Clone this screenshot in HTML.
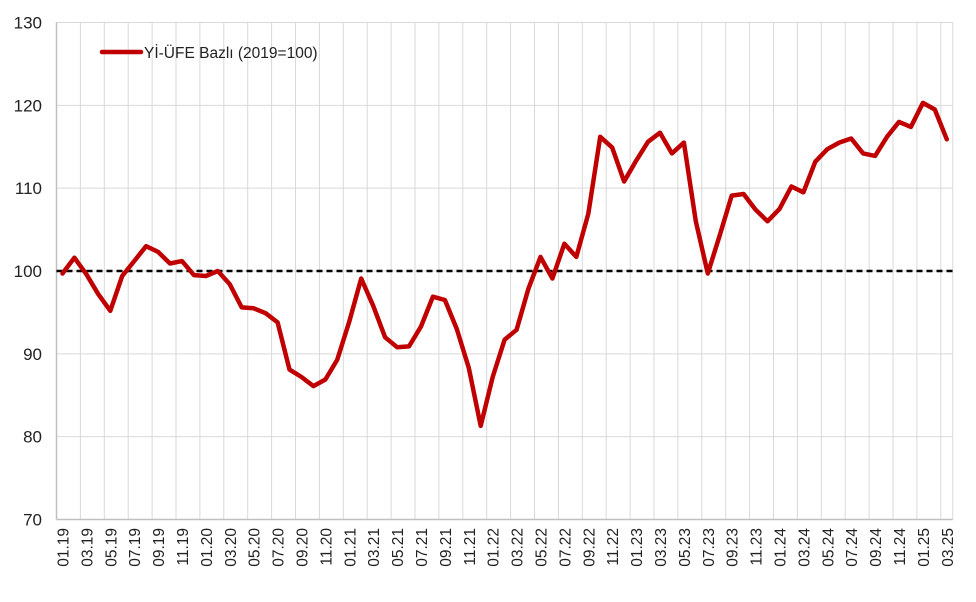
<!DOCTYPE html>
<html><head><meta charset="utf-8"><style>
html,body{margin:0;padding:0;background:#fff;}
svg{display:block;font-family:"Liberation Sans",sans-serif;}
</style></head><body>
<svg id="s" width="976" height="602" xmlns="http://www.w3.org/2000/svg"></svg>
<script>
const s=document.getElementById('s');
const L=56.5,T=22.5,B=519.5,W=896.25,n=75,dx=W/n;
const yv=v=>271-(v-100)*8.283;
let h='';
// horizontal grid
for(let v=70;v<=130;v+=10){const y=yv(v);h+=`<line x1="${L}" x2="${L+W}" y1="${y}" y2="${y}" stroke="#d9d9d9" stroke-width="1"/>`;
h+=`<text x="42" y="${y+6}" text-anchor="end" font-size="17" fill="#222">${v}</text>`;}
// vertical grid
for(let k=0;k<=n;k+=2){const x=L+k*dx;h+=`<line x1="${x}" x2="${x}" y1="${T}" y2="${B}" stroke="#d9d9d9" stroke-width="1"/>`;}
h+=`<line x1="${L+W}" x2="${L+W}" y1="${T}" y2="${B}" stroke="#d9d9d9"/>`;
h+=`<line x1="${L}" x2="${L}" y1="${T}" y2="${B}" stroke="#bfbfbf" stroke-width="1.5"/>`;
h+=`<line x1="${L}" x2="${L+W}" y1="${B}" y2="${B}" stroke="#bfbfbf" stroke-width="1.5"/>`;
// labels
const labs=[];let m=1,yr=19;
for(let i=0;i<n;i++){if(i%2==0){const x=L+dx*(i+0.5);labs.push(`<text transform="translate(${x+6},528) rotate(-90)" text-anchor="end" font-size="15.5" fill="#222">${String(m).padStart(2,'0')}.${yr}</text>`);}m++;if(m>12){m=1;yr++;}}
h+=labs.join('');
h+=`<line x1="${L}" x2="${L+W}" y1="271" y2="271" stroke="#000" stroke-width="2.5" stroke-dasharray="6,4"/>`;
const d=[99.7,101.6,99.6,97.2,95.2,99.4,101.2,103.0,102.3,100.9,101.2,99.5,99.4,100.0,98.4,95.6,95.5,94.9,93.8,88.1,87.2,86.1,86.9,89.3,93.9,99.1,95.8,92.0,90.8,90.9,93.3,96.9,96.5,93.0,88.3,81.3,87.2,91.7,92.9,97.9,101.7,99.1,103.3,101.7,106.9,116.2,114.9,110.8,113.3,115.6,116.7,114.2,115.5,106.0,99.7,104.3,109.1,109.3,107.4,106.0,107.5,110.2,109.5,113.2,114.7,115.5,116.0,114.2,113.9,116.2,118.0,117.4,120.3,119.5,115.9];
const pts=d.map((v,i)=>`${(L+dx*(i+0.5)).toFixed(1)},${yv(v).toFixed(1)}`).join(' ');
h+=`<polyline points="${pts}" fill="none" stroke="#c00000" stroke-width="4.5" stroke-linejoin="round" stroke-linecap="round"/>`;
h+=`<line x1="102" x2="141" y1="52" y2="52" stroke="#c00000" stroke-width="4.5" stroke-linecap="round"/>`;
h+=`<text x="144" y="58" font-size="15.5" fill="#222">Yİ-ÜFE Bazlı (2019=100)</text>`;
s.innerHTML=h;
</script>
</body></html>
